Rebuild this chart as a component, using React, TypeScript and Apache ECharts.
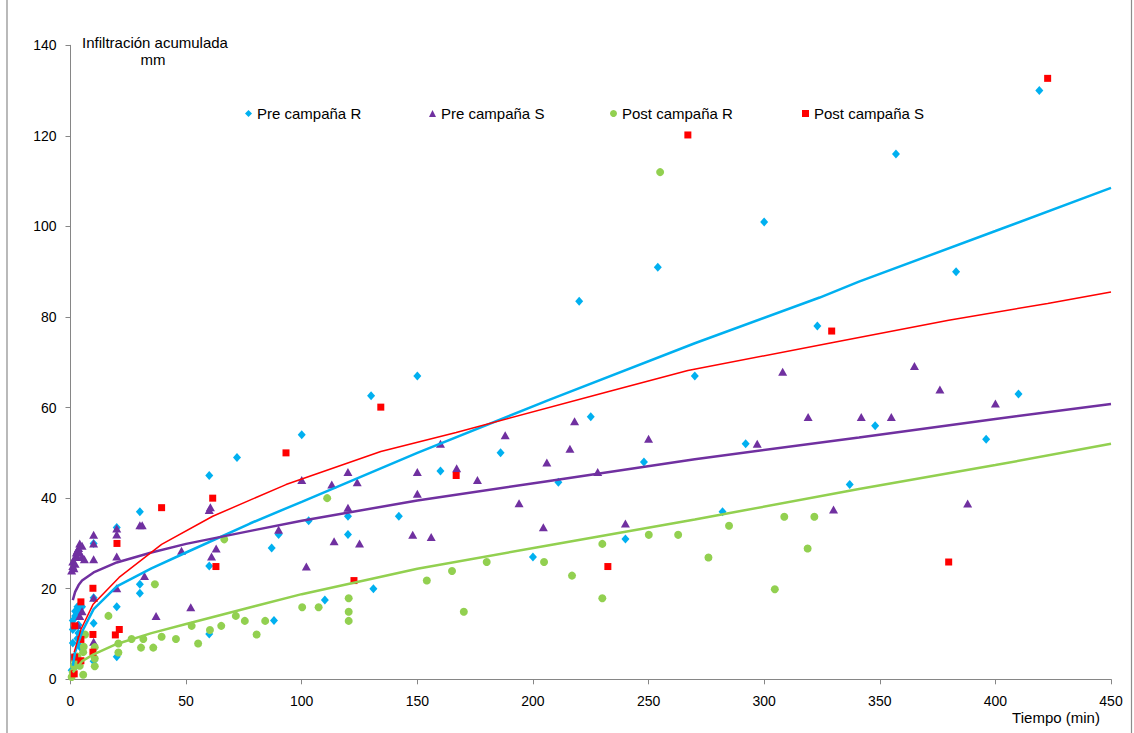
import React, { useEffect, useRef } from "react";
import * as echarts from "echarts";

const xTicks = [0, 50, 100, 150, 200, 250, 300, 350, 400, 450];
const yTicks = [0, 20, 40, 60, 80, 100, 120, 140];

const seriesNames = ["Pre campaña R", "Pre campaña S", "Post campaña R", "Post campaña S"];
const seriesColors = ["#00B0F0", "#7030A0", "#92D050", "#FF0000"];

const preR: number[][] = [
  [0.5, 2], [1, 8], [1, 11], [1, 13], [1.5, 5], [2, 14], [2, 15], [2.5, 3], [3, 9], [3, 16], [3.5, 12],
  [4, 15], [4.5, 7], [5, 16], [2.7, 14.6], [3.4, 10.2], [4.1, 7.2],
  [10, 30], [10, 18], [10, 12.4], [10, 4], [20, 33.5], [20, 16], [20, 5], [30, 37], [30, 21], [30, 19],
  [60, 45], [60, 25], [60, 10], [72, 49], [87, 29], [88, 13], [90, 32], [100, 54], [103, 35], [110, 17.5],
  [120, 36], [120, 32], [130, 62.6], [131, 20], [142, 36], [150, 67], [160, 46], [186, 50], [200, 27],
  [211, 43.5], [220, 83.5], [225, 58], [240, 31], [248, 48], [254, 91], [270, 67], [282, 37], [292, 52],
  [300, 101], [323, 78], [337, 43], [348, 56], [357, 116], [383, 90], [396, 53], [410, 63], [419, 130],
];

const preS: number[][] = [
  [0.5, 24], [1, 25], [1, 26], [1.5, 24.5], [2, 27], [2, 25.5], [2.5, 28], [3, 27], [3, 28.5], [3.5, 29],
  [4, 28], [4, 30], [5, 29.5], [5, 27], [6, 26.5], [3, 12], [4, 14], [5, 15],
  [10, 31.9], [10, 30], [10, 26.5], [10, 18], [10, 8.3], [20, 33.3], [20, 32], [20, 27.1], [20, 20.1],
  [30, 34], [31, 34], [32, 22.8], [37, 14], [48, 28.4], [52, 15.9], [60, 37.4], [60.5, 38], [61, 27.1],
  [63, 28.9], [90, 33], [100, 44], [102, 24.9], [113, 43], [114, 30.5], [120, 45.8], [120, 37.9],
  [124, 43.5], [125, 30], [148, 31.9], [150, 45.8], [150, 41], [156, 31.4], [160, 52], [167, 46.6],
  [176, 44], [188, 53.9], [194, 38.9], [204.5, 33.6], [206, 47.9], [216, 50.9], [218, 57], [228, 45.8],
  [240, 34.4], [250, 53.1], [297, 52], [308, 67.9], [319, 57.9], [330, 37.5], [342, 57.9], [355, 57.9],
  [365, 69.2], [376, 64], [388, 38.8], [400, 60.9],
];

const postR: number[][] = [
  [0.5, 0.5], [1, 1.5], [1.5, 3], [2, 4], [3, 5], [4, 3], [5.5, 1], [5.5, 6], [6.3, 9.9], [5.7, 7.2],
  [10.5, 7.1], [10.5, 4.6], [10.5, 2.9], [16.4, 14], [20.7, 7.9], [20.7, 5.9], [26.4, 8.9], [30.5, 7],
  [31.5, 8.9], [35.8, 7], [36.5, 21], [39.4, 9.4], [45.6, 8.9], [52.4, 11.8], [55.2, 7.9], [60.3, 10.9],
  [65.2, 11.8], [66.5, 30.9], [71.5, 14], [75.4, 12.9], [80.5, 9.9], [84.2, 12.9], [100.2, 15.9],
  [107.3, 15.9], [111, 40], [120.3, 17.9], [120.3, 14.9], [120.3, 12.9], [154.1, 21.8], [165, 23.9],
  [170.1, 14.9], [180, 25.9], [204.8, 25.9], [216.9, 22.9], [230, 29.9], [230, 17.9], [250.1, 31.9],
  [255, 112], [262.8, 31.9], [275.9, 26.9], [284.8, 33.9], [304.6, 19.9], [308.7, 35.9], [318.8, 28.9],
  [321.7, 35.9],
];

const postS: number[][] = [
  [1.6, 1.2], [1.8, 4.9], [1.8, 11.8], [4.5, 17.1], [4.5, 8.8], [4.5, 4.1], [9.7, 20.1], [9.7, 9.9],
  [9.7, 6], [19.4, 9.8], [20.1, 30], [21.1, 11], [39.4, 37.9], [61.5, 40], [62.9, 24.9], [93.2, 50],
  [122.6, 21.8], [134.2, 60.1], [166.8, 45], [232.4, 24.9], [267, 120.2], [329.2, 76.9], [379.8, 25.9],
  [422.6, 132.7],
];

// trend lines
const trendPreR: number[][] = [
  [1, 3], [2, 6], [5, 10.5], [10, 15.5], [20, 20.5], [35, 24.5], [50, 28], [77.6, 34.4], [100, 39.2],
  [150, 50], [207, 61.7], [270, 74.2], [324, 84.3], [341, 87.8], [400, 99], [450, 108.5],
];
const trendPreS: number[][] = [
  [1, 17.5], [2, 19.3], [3.5, 20.8], [5, 21.8], [10, 23.6], [20, 25.8], [35, 28], [50, 29.9], [80, 33],
  [100, 35], [150, 39.5], [207, 43.8], [270, 48.6], [341, 53.4], [400, 57.5], [450, 60.8],
];
const trendPostR: number[][] = [
  [1, 1.5], [5, 4], [10, 5.5], [20, 7.8], [35, 10.2], [50, 12.2], [80, 16.2], [100, 18.8], [150, 24.4],
  [207, 29.6], [270, 35.3], [341, 42], [400, 47.3], [450, 52],
];
const trendPostS: number[][] = [
  [1.6, 6], [4.5, 11], [9.7, 16.5], [21, 22.5], [39.4, 29.8], [61.5, 36], [93.2, 43], [134.2, 50.3],
  [166.8, 54.5], [232.4, 63.5], [267, 68.2], [329.2, 74.3], [379.8, 79.3], [422.6, 83], [450, 85.5],
];

const FONT = "'Liberation Sans', Arial, sans-serif";

export default function App() {
  const ref = useRef<HTMLDivElement>(null);

  useEffect(() => {
    if (!ref.current) return;
    const chart = echarts.init(ref.current, undefined, { renderer: "svg" });

    const symbols = ["diamond", "triangle", "circle", "rect"];
    const sizes: any[] = [[8, 9], [9, 8], 8, 7];
    const scatterData = [preR, preS, postR, postS];
    const trendData = [trendPreR, trendPreS, trendPostR, trendPostS];
    const trendWidths = [2.5, 2.5, 2.5, 1.5];
    const legendLeft = [245, 429, 610, 802];

    const scatterSeries = seriesNames.map((name, i) => ({
      name,
      type: "scatter",
      data: scatterData[i],
      symbol: symbols[i],
      symbolSize: sizes[i],
      itemStyle: { color: seriesColors[i], opacity: 1 },
      z: 2,
    }));

    const lineSeries = seriesNames.map((name, i) => ({
      name: name + " tendencia",
      type: "line",
      data: trendData[i],
      showSymbol: false,
      symbol: "none",
      smooth: false,
      lineStyle: { color: seriesColors[i], width: trendWidths[i] },
      itemStyle: { color: seriesColors[i] },
      z: 3,
      silent: true,
    }));

    const legends = seriesNames.map((name, i) => ({
      data: [name],
      left: legendLeft[i],
      top: 106,
      padding: 0,
      itemWidth: 7,
      itemHeight: 7,
      itemGap: 0,
      textStyle: { fontSize: 15, color: "#000", fontFamily: FONT },
      selectedMode: false,
    }));

    chart.setOption({
      animation: false,
      backgroundColor: "#fff",
      textStyle: { fontFamily: FONT },
      grid: { left: 70.5, right: 23, top: 45.3, bottom: 53.7, containLabel: false },
      legend: legends,
      xAxis: {
        type: "value",
        min: xTicks[0],
        max: xTicks[xTicks.length - 1],
        interval: 50,
        splitLine: { show: false },
        axisLine: { show: true, lineStyle: { color: "#868686", width: 1 } },
        axisTick: { show: true, length: 5, lineStyle: { color: "#868686" } },
        axisLabel: { fontSize: 14, color: "#000", margin: 15, fontFamily: FONT },
      },
      yAxis: {
        type: "value",
        min: yTicks[0],
        max: yTicks[yTicks.length - 1],
        interval: 20,
        splitLine: { show: false },
        axisLine: { show: true, lineStyle: { color: "#868686", width: 1 } },
        axisTick: { show: true, length: 5, lineStyle: { color: "#868686" } },
        axisLabel: { fontSize: 14, color: "#000", margin: 14, fontFamily: FONT },
      },
      graphic: [
        {
          type: "rect",
          shape: { x: 7, y: -2, width: 1124.5, height: 740 },
          style: { fill: "none", stroke: "#8c8c8c", lineWidth: 1.2 },
          silent: true,
        },
        {
          type: "text",
          x: 155,
          y: 42,
          style: {
            text: "Infiltración acumulada",
            fontSize: 15,
            fontFamily: FONT,
            fill: "#000",
            textAlign: "center",
            textVerticalAlign: "middle",
          },
        },
        {
          type: "text",
          x: 153,
          y: 59,
          style: {
            text: "mm",
            fontSize: 15,
            fontFamily: FONT,
            fill: "#000",
            textAlign: "center",
            textVerticalAlign: "middle",
          },
        },
        {
          type: "text",
          x: 1056,
          y: 717,
          style: {
            text: "Tiempo (min)",
            fontSize: 15,
            fontFamily: FONT,
            fill: "#000",
            textAlign: "center",
            textVerticalAlign: "middle",
          },
        },
      ],
      series: [...scatterSeries, ...lineSeries],
    });

    return () => chart.dispose();
  }, []);

  return (
    <div
      ref={ref}
      style={{ position: "absolute", left: 0, top: 0, width: 1134, height: 733, background: "#fff" }}
    />
  );
}
